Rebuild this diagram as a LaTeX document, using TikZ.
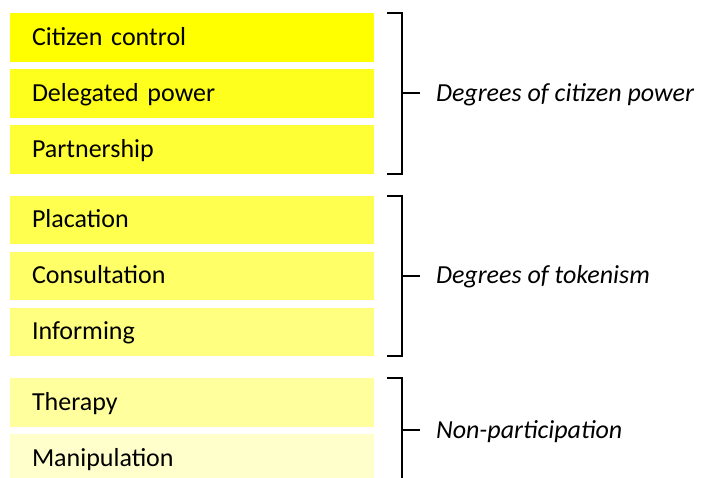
\documentclass[tikz,border=0pt]{standalone}
\usepackage{fontspec}
\setmainfont{Carlito}
\usetikzlibrary{positioning}

\definecolor{rungA}{HTML}{FFFF00}
\definecolor{rungB}{HTML}{FFFF1E}
\definecolor{rungC}{HTML}{FFFF36}
\definecolor{rungD}{HTML}{FFFF50}
\definecolor{rungE}{HTML}{FFFF68}
\definecolor{rungF}{HTML}{FFFF80}
\definecolor{rungG}{HTML}{FFFF9E}
\definecolor{rungH}{HTML}{FFFFCC}

\begin{document}
\begin{tikzpicture}[x=0.5pt,y=-0.5pt,node distance=3.75pt,
        rung/.style={rectangle,minimum height=24.25pt,text width=160pt,
          inner xsep=11pt,inner ysep=0pt,outer sep=0pt,align=left,
          text height=8pt,text depth=0pt,font=\fontsize{13}{15}\selectfont},
        brace/.style={line width=1pt},
        grouplabel/.style={anchor=west,inner sep=0pt,xshift=7.5pt,
          text height=8pt,text depth=0pt,font=\fontsize{13}{15}\selectfont\itshape}]

  \useasboundingbox (0,0) rectangle (704,477);
  \clip (0,0) rectangle (704,477);

  % the rungs
  \node[rung,fill=rungA] (control) at (192,37.25) {Citizen control};
  \node[rung,fill=rungB] (delegated) [below=of control] {Delegated power};
  \node[rung,fill=rungC] (partner) [below=of delegated] {Partnership};
  \node[rung,fill=rungD] (placation) [below=11pt of partner] {Placation};
  \node[rung,fill=rungE] (consult) [below=of placation] {Consultation};
  \node[rung,fill=rungF] (inform) [below=of consult] {Informing};
  \node[rung,fill=rungG] (therapy) [below=11pt of inform] {Therapy};
  \node[rung,fill=rungH] (manip) [below=of therapy] {Manipulation};

  % brackets
  \draw[brace] ([xshift=6.5pt]control.north east) -| ([xshift=14pt]partner.south east)
        -- ([xshift=6.5pt]partner.south east);
  \draw[brace] ([xshift=6.5pt]placation.north east) -| ([xshift=14pt]inform.south east)
        -- ([xshift=6.5pt]inform.south east);
  \draw[brace] ([xshift=6.5pt]therapy.north east) -| ([xshift=14pt]manip.south east)
        -- ([xshift=6.5pt]manip.south east);

  \path ([xshift=14pt]control.north east) -- ([xshift=14pt]partner.south east)
        coordinate[midway] (powermid);
  \path ([xshift=14pt]placation.north east) -- ([xshift=14pt]inform.south east)
        coordinate[midway] (tokenmid);
  \path ([xshift=14pt]therapy.north east) -- ([xshift=14pt]manip.south east)
        coordinate[midway] (nonmid);

  \draw[brace] (powermid) -- ++(9pt,0) node[grouplabel] (power) {Degrees of citizen power};
  \draw[brace] (tokenmid) -- ++(9pt,0) node[grouplabel] (token) {Degrees of tokenism};
  \draw[brace] (nonmid) -- ++(9pt,0) node[grouplabel] (nonpart) {Non-participation};

\end{tikzpicture}
\end{document}
